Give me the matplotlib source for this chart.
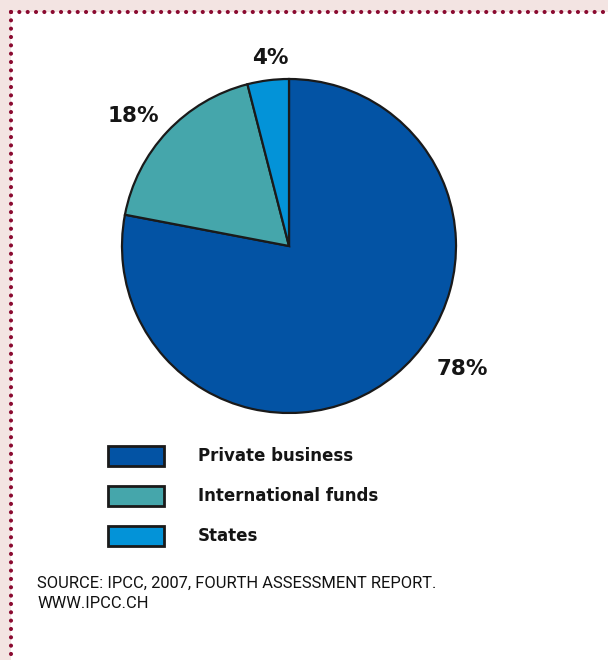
import matplotlib
matplotlib.use("Agg")
import matplotlib.pyplot as plt
from matplotlib.patches import Rectangle
from matplotlib.lines import Line2D

# Funding sources (share of total, %)
categories = ["Private business", "International funds", "States"]
shares = [78, 18, 4]
colors = ["#0353a4", "#45a6ab", "#0393d8"]

source_lines = ["SOURCE: IPCC, 2007, FOURTH ASSESSMENT REPORT.", "WWW.IPCC.CH"]

W, H = 608, 660
fig = plt.figure(figsize=(W / 100, H / 100), dpi=100)
fig.patch.set_facecolor("#f3e4e2")

# Full-figure overlay in pixel coordinates (y down)
bg = fig.add_axes([0, 0, 1, 1])
bg.set_xlim(0, W)
bg.set_ylim(H, 0)
bg.axis("off")
bg.add_patch(Rectangle((11, 12), W, H, facecolor="white", edgecolor="none", zorder=0))
dot = dict(color="#8a0a30", linewidth=3.0, solid_capstyle="round",
           dash_capstyle="round", linestyle=(0, (0.001, 2.0)))
bg.add_line(Line2D([11, W + 5], [12, 12], **dot))
bg.add_line(Line2D([11, 11], [12, H + 5], **dot))

# Pie
cx, cy, r = 289, 246, 167
pie_ax = fig.add_axes([(cx - r) / W, (H - cy - r) / H, 2 * r / W, 2 * r / H])
wedges, _ = pie_ax.pie(shares, colors=colors, startangle=90, counterclock=False,
                       radius=1.0,
                       wedgeprops=dict(edgecolor="#1a1a1a", linewidth=1.6))
pie_ax.set_xlim(-1, 1)
pie_ax.set_ylim(-1, 1)
pie_ax.set_aspect("equal")
pie_ax.axis("off")

# Percentage labels placed outside the wedges
label_pos = [(462, 369), (133, 116), (270, 58)]
for v, (x, y) in zip(shares, label_pos):
    bg.text(x, y, f"{v}%", ha="center", va="center", fontsize=15.5,
            fontweight="heavy", color="#151515", family="DejaVu Sans")

# Legend
for i, (name, c) in enumerate(zip(categories, colors)):
    y0 = 446 + i * 40
    bg.add_patch(Rectangle((108, y0), 56, 20, facecolor=c, edgecolor="#1a1a1a",
                           linewidth=2.0, zorder=3))
    bg.text(198, y0 + 10, name, ha="left", va="center", fontsize=12,
            fontweight="heavy", color="#151515", family="DejaVu Sans")

# Source note
for i, line in enumerate(source_lines):
    bg.text(37, 583 + i * 21, line, ha="left", va="center", fontsize=11.9,
            color="#111111", family="Roboto")

fig.savefig("out.png", dpi=100, facecolor=fig.get_facecolor())
